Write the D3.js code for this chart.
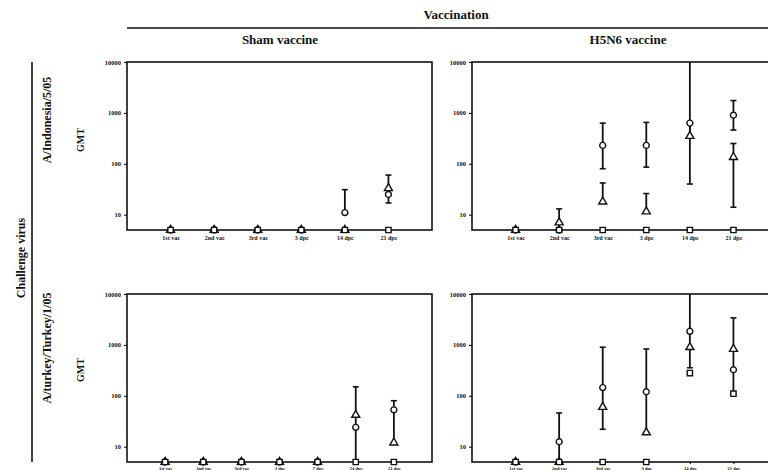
<!DOCTYPE html>
<html>
<head>
<meta charset="utf-8">
<script src="https://cdn.jsdelivr.net/npm/d3@7"></script>
<style>
  body { margin: 0; background: #fff; }
  svg { display: block; }
  text { font-family: "Liberation Serif", "DejaVu Serif", serif; font-weight: bold; fill: #111; }
</style>
</head>
<body>
<svg width="768" height="470"></svg>
<script>
// time points (6 for most panels, 7 for sham / turkey)
var timesA = ["1st vac", "2nd vac", "3rd vac", "3 dpc", "14 dpc", "21 dpc"];
var timesB = ["1st vac", "2nd vac", "3rd vac", "3 dpc", "7 dpc", "14 dpc", "21 dpc"];
var yTicks = [10, 100, 1000, 10000];

// each entry: [GMT, lower, upper]
// Sham vaccine / A/Indonesia/5/05
var tlCircle   = [[5,5,5],[5,5,5],[5,5,5],[5,5,5],[11,11,31],[25,17,60]];
var tlTriangle = [[5,5,5],[5,5,5],[5,5,5],[5,5,5],[5,5,5],[33,33,33]];
var tlSquare   = [[5,5,5],[5,5,5],[5,5,5],[5,5,5],[5,5,5],[5,5,5]];
// H5N6 vaccine / A/Indonesia/5/05
var trCircle   = [[5,5,5],[5,5,5],[230,80,630],[230,86,650],[630,350,10000],[900,460,1750]];
var trTriangle = [[5,5,5],[7,5,13],[18,18,42],[11.5,11.5,26],[350,40,630],[135,14,250]];
var trSquare   = [[5,5,5],[5,5,5],[5,5,5],[5,5,5],[5,5,5],[5,5,5]];
// Sham vaccine / A/turkey/Turkey/1/05
var blCircle   = [[5,5,5],[5,5,5],[5,5,5],[5,5,5],[5,5,5],[24,5,150],[53,12,80]];
var blTriangle = [[5,5,5],[5,5,5],[5,5,5],[5,5,5],[5,5,5],[42,42,42],[12,12,12]];
var blSquare   = [[5,5,5],[5,5,5],[5,5,5],[5,5,5],[5,5,5],[5,5,5],[5,5,5]];
// H5N6 vaccine / A/turkey/Turkey/1/05
var brCircle   = [[5,5,5],[12.5,5,46],[145,22,900],[120,19,830],[1850,355,10000],[325,110,3400]];
var brTriangle = [[5,5,5],[5,5,5],[60,60,60],[19,19,19],[900,900,900],[830,830,830]];
var brSquare   = [[5,5,5],[5,5,5],[5,5,5],[5,5,5],[280,280,280],[110,110,110]];

var svg = d3.select("svg");
var pw = 305, ph = 168;

var panels = [
  { x: 127, y: 62,  cats: timesA, series: [tlCircle, tlTriangle, tlSquare], ly: 5, lf: 6 },
  { x: 472, y: 62,  cats: timesA, series: [trCircle, trTriangle, trSquare], ly: 5, lf: 6 },
  { x: 127, y: 294, cats: timesB, series: [blCircle, blTriangle, blSquare], ly: 4, lf: 4.6 },
  { x: 472, y: 294, cats: timesA, series: [brCircle, brTriangle, brSquare], ly: 4, lf: 4.6 }
];
var symbols = [d3.symbolCircle, d3.symbolTriangle, d3.symbolSquare];

// headers
svg.append("text").attr("x", 456).attr("y", 19).attr("text-anchor", "middle")
  .attr("font-size", 13).text("Vaccination");
svg.append("line").attr("x1", 127).attr("x2", 768).attr("y1", 28).attr("y2", 28)
  .attr("stroke", "#111").attr("stroke-width", 1.6);
svg.append("text").attr("x", 280).attr("y", 44).attr("text-anchor", "middle")
  .attr("font-size", 13).text("Sham vaccine");
svg.append("text").attr("x", 628).attr("y", 44).attr("text-anchor", "middle")
  .attr("font-size", 13).text("H5N6 vaccine");

// row labels
svg.append("line").attr("x1", 32).attr("x2", 32).attr("y1", 62).attr("y2", 462)
  .attr("stroke", "#111").attr("stroke-width", 1.6);
function vtext(x, y, size, t) {
  svg.append("text").attr("transform", "translate(" + x + "," + y + ") rotate(-90)")
    .attr("text-anchor", "middle").attr("font-size", size).text(t);
}
vtext(25, 258, 12, "Challenge virus");
vtext(51, 120, 12, "A/Indonesia/5/05");
vtext(51, 348, 12, "A/turkey/Turkey/1/05");
vtext(84, 140, 10, "GMT");
vtext(84, 370, 10, "GMT");

panels.forEach(function(p) {
  var g = svg.append("g").attr("transform", "translate(" + p.x + "," + p.y + ")");
  var x = d3.scalePoint().domain(p.cats).range([0, pw]).padding(1);
  var y = d3.scaleLog().domain([5, 10000]).range([ph, 0]);

  g.append("rect").attr("width", pw).attr("height", ph)
    .attr("fill", "none").attr("stroke", "#111").attr("stroke-width", 1.6);

  var ya = g.append("g").call(d3.axisLeft(y).tickValues(yTicks).tickSize(3).tickFormat(d3.format("d")));
  ya.select(".domain").remove();
  ya.selectAll("text").attr("font-size", 6.5).attr("fill", "#111");

  var xa = g.append("g").attr("transform", "translate(0," + ph + ")")
    .call(d3.axisBottom(x).tickSize(2));
  xa.select(".domain").remove();
  xa.selectAll("text").attr("font-size", p.lf).attr("y", p.ly).attr("dy", "0.8em").attr("fill", "#111");

  p.series.forEach(function(s, si) {
    var sg = g.append("g");
    s.forEach(function(d, i) {
      var cx = x(p.cats[i]);
      if (d[2] > d[1]) {
        sg.append("line").attr("x1", cx).attr("x2", cx)
          .attr("y1", y(d[1])).attr("y2", y(d[2]))
          .attr("stroke", "#111").attr("stroke-width", 1.8);
        [d[1], d[2]].forEach(function(v) {
          if (v !== d[0] && v > 5 && v < 10000) {
            sg.append("line").attr("x1", cx - 3).attr("x2", cx + 3)
              .attr("y1", y(v)).attr("y2", y(v))
              .attr("stroke", "#111").attr("stroke-width", 1.6);
          }
        });
      }
    });
  });

  p.series.forEach(function(s, si) {
    g.append("g").selectAll("path")
      .data(s)
      .enter()
      .append("path")
      .attr("transform", function(d, i) {
        return "translate(" + x(p.cats[i]) + "," + y(d[0]) + ")";
      })
      .attr("d", d3.symbol().type(symbols[si]).size(28))
      .attr("fill", "#fff")
      .attr("stroke", "#111")
      .attr("stroke-width", 1.4);
  });
});
</script>
</body>
</html>
